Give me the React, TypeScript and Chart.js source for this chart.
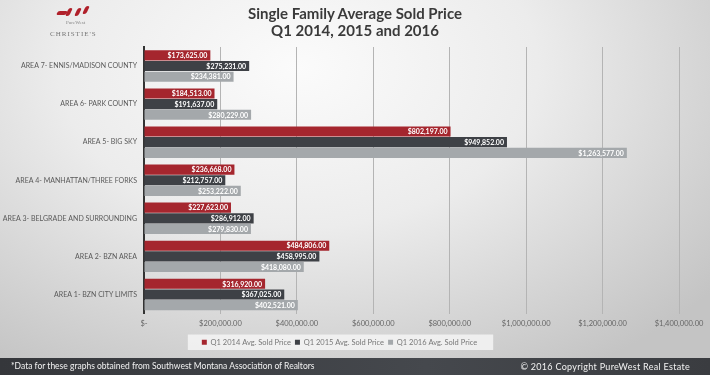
import React, { useEffect, useRef } from "react";
import { Chart, registerables } from "chart.js";

Chart.register(...registerables);

const categories = [
  "AREA 7- ENNIS/MADISON COUNTY",
  "AREA 6- PARK COUNTY",
  "AREA 5- BIG SKY",
  "AREA 4- MANHATTAN/THREE FORKS",
  "AREA 3- BELGRADE AND SURROUNDING",
  "AREA 2- BZN AREA",
  "AREA 1- BZN CITY LIMITS",
];
const q1_2014 = [173625, 184513, 802197, 236668, 227623, 484806, 316920];
const q1_2015 = [275231, 191637, 949852, 212757, 286912, 458995, 367025];
const q1_2016 = [234381, 280229, 1263577, 253222, 279830, 418080, 402521];
const seriesNames = ["Q1 2014 Avg. Sold Price", "Q1 2015 Avg. Sold Price", "Q1 2016 Avg. Sold Price"];
const seriesColors = ["#a5262e", "#3e4146", "#a4a8ab"];
const xMax = 1400000;
const xStep = 200000;

const FONT = "Lato, 'Open Sans', sans-serif";

const money = (v: number) =>
  "$" + v.toLocaleString("en-US", { minimumFractionDigits: 2, maximumFractionDigits: 2 });

const valueLabels = {
  id: "valueLabels",
  afterDatasetsDraw(chart: any) {
    const ctx = chart.ctx;
    ctx.save();
    ctx.font = `bold 7px ${FONT}`;
    ctx.fillStyle = "#ffffff";
    ctx.textAlign = "right";
    ctx.textBaseline = "middle";
    chart.data.datasets.forEach((ds: any, di: number) => {
      const meta = chart.getDatasetMeta(di);
      meta.data.forEach((el: any, i: number) => {
        ctx.fillText(money(ds.data[i]), el.x - 3, el.y + 0.5);
      });
    });
    ctx.restore();
  },
};

const legendBg = {
  id: "legendBg",
  beforeDraw(chart: any) {
    const lg = chart.legend;
    if (!lg || !lg.legendHitBoxes || !lg.legendHitBoxes.length) return;
    const boxes = lg.legendHitBoxes;
    const l = Math.min(...boxes.map((b: any) => b.left));
    const r = Math.max(...boxes.map((b: any) => b.left + b.width));
    const t = Math.min(...boxes.map((b: any) => b.top));
    const bt = Math.max(...boxes.map((b: any) => b.top + b.height));
    const ctx = chart.ctx;
    ctx.save();
    ctx.fillStyle = "rgba(245,245,245,0.85)";
    ctx.fillRect(l - 14, t - 4, r - l + 30, bt - t + 8);
    ctx.restore();
  },
};

export default function App() {
  const ref = useRef<HTMLCanvasElement | null>(null);
  useEffect(() => {
    if (!ref.current) return;
    const chart = new Chart(ref.current, {
      type: "bar",
      data: {
        labels: categories,
        datasets: [q1_2014, q1_2015, q1_2016].map((d, i) => ({
          label: seriesNames[i],
          data: d,
          backgroundColor: seriesColors[i],
          barPercentage: 0.95,
          categoryPercentage: 0.84,
        })),
      },
      options: {
        indexAxis: "y",
        responsive: false,
        animation: false,
        devicePixelRatio: 1,
        layout: { padding: { top: 47, right: 31, left: 0, bottom: 2 } },
        plugins: {
          legend: {
            position: "bottom",
            labels: {
              boxWidth: 5,
              boxHeight: 5,
              padding: 4,
              color: "#777",
              font: { family: FONT, size: 7.5 },
            },
          },
          tooltip: { enabled: false },
        },
        scales: {
          x: {
            min: 0,
            max: xMax,
            ticks: {
              stepSize: xStep,
              color: "#666",
              font: { family: FONT, size: 7.5 },
              padding: 6,
              callback: (v: any) => (Number(v) === 0 ? "$-" : money(Number(v))),
            },
            grid: { color: "#b4b4b4", lineWidth: 1, drawTicks: false },
            border: { display: false },
          },
          y: {
            afterFit: (s: any) => {
              s.width = 144;
            },
            ticks: {
              color: "#5a5a5a",
              font: { family: FONT, size: 7 },
              padding: 7,
            },
            grid: { display: false, drawTicks: false },
            border: { display: true, color: "#333", width: 2 },
          },
        },
      },
      plugins: [valueLabels, legendBg],
    } as any);
    return () => chart.destroy();
  }, []);

  return (
    <div
      style={{
        position: "fixed",
        left: 0,
        top: 0,
        width: 710,
        height: 375,
        overflow: "hidden",
        background:
          "radial-gradient(ellipse 75% 95% at 42% 18%, #fbfbfb 0%, #ececec 45%, #d6d6d6 75%, #c4c4c4 100%)",
        fontFamily: FONT,
      }}
    >
      {/* logo */}
      <div style={{ position: "absolute", left: 57, top: 6, width: 40, height: 12 }}>
        {[0, 10, 19, 27].map((x, i) => (
          <div
            key={i}
            style={{
              position: "absolute",
              left: x,
              top: i === 0 ? 5 : i === 3 ? 0 : 2,
              width: i === 0 ? 10 : 4,
              height: i === 0 ? 4 : 8,
              background: "#b0202a",
              transform: "skewX(-25deg)",
              borderRadius: 2,
            }}
          />
        ))}
      </div>
      <div style={{ position: "absolute", left: 66, top: 20, fontSize: 5, color: "#888", fontFamily: "'Liberation Serif', serif" }}>
        PureWest
      </div>
      <div style={{ position: "absolute", left: 50, top: 30, fontSize: 7, color: "#777", letterSpacing: 1, fontFamily: "'Liberation Serif', serif" }}>
        CHRISTIE'S
      </div>
      <div style={{ position: "absolute", left: 0, width: 710, top: 5, textAlign: "center", fontWeight: 700, fontSize: 15, lineHeight: "17px", color: "#3a3a3a" }}>
        Single Family Average Sold Price
        <br />
        Q1 2014, 2015 and 2016
      </div>
      <canvas ref={ref} width={710} height={358} style={{ position: "absolute", left: 0, top: 0 }} />
      <div
        style={{
          position: "absolute",
          left: 0,
          top: 358,
          width: 710,
          height: 17,
          background: "linear-gradient(90deg, #35373b 0%, #45484d 60%, #3a3c40 100%)",
          color: "#f2f2f2",
          fontSize: 8.5,
          lineHeight: "17px",
        }}
      >
        <span style={{ position: "absolute", left: 11 }}>
          *Data for these graphs obtained from Southwest Montana Association of Realtors
        </span>
        <span style={{ position: "absolute", right: 20, fontSize: 9, letterSpacing: 0.3 }}>© 2016 Copyright PureWest Real Estate</span>
      </div>
    </div>
  );
}
